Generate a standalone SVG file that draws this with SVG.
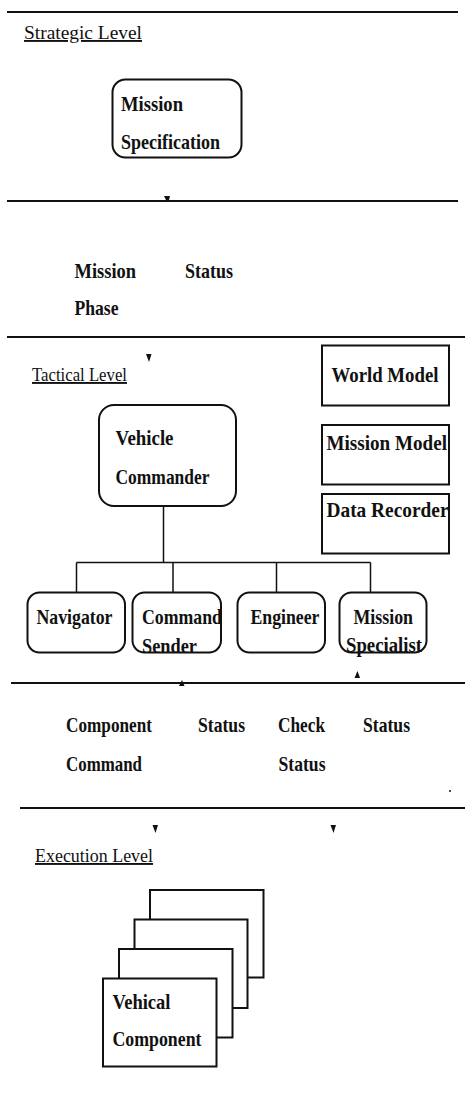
<svg xmlns="http://www.w3.org/2000/svg" width="465" height="1093" viewBox="0 0 465 1093">
  <style>
    .t { font-family: "Liberation Serif", "Times New Roman", serif; font-size: 22px; font-weight: bold; fill: #111; }
    .hd { font-family: "Liberation Serif", "Times New Roman", serif; font-size: 19px; fill: #111; text-decoration: underline; }
    .sep { stroke: #111; stroke-width: 2; fill: none; }
    .box { stroke: #111; stroke-width: 2; fill: #fff; }
    .wire { stroke: #111; stroke-width: 1.5; fill: none; }
    .tip { fill: #111; }
  </style>
  <rect width="465" height="1093" fill="#fff"/>

  <!-- level separators -->
  <g id="separators">
    <line class="sep" x1="7" y1="12" x2="458" y2="12"/>
    <line class="sep" x1="7" y1="201" x2="458" y2="201"/>
    <line class="sep" x1="7" y1="337" x2="465" y2="337"/>
    <line class="sep" x1="11" y1="683" x2="465" y2="683"/>
    <line class="sep" x1="20" y1="808" x2="465" y2="808"/>
  </g>

  <!-- level headings -->
  <g id="headings">
    <text class="hd" x="24" y="39" textLength="118" lengthAdjust="spacingAndGlyphs">Strategic Level</text>
    <text class="hd" x="32" y="381" textLength="95" lengthAdjust="spacingAndGlyphs">Tactical Level</text>
    <text class="hd" x="35" y="862" textLength="118" lengthAdjust="spacingAndGlyphs">Execution Level</text>
  </g>

  <!-- strategic level -->
  <g id="mission-specification">
    <rect class="box" x="112.5" y="79.5" width="129" height="78" rx="13"/>
    <text class="t" x="121" y="111" textLength="62" lengthAdjust="spacingAndGlyphs">Mission</text>
    <text class="t" x="121" y="149" textLength="99" lengthAdjust="spacingAndGlyphs">Specification</text>
  </g>

  <!-- strategic / tactical interface -->
  <g id="mission-status-phase">
    <text class="t" x="74.5" y="278" textLength="61.5" lengthAdjust="spacingAndGlyphs">Mission</text>
    <text class="t" x="185" y="278" textLength="48" lengthAdjust="spacingAndGlyphs">Status</text>
    <text class="t" x="74.5" y="315" textLength="44" lengthAdjust="spacingAndGlyphs">Phase</text>
  </g>

  <!-- tactical level -->
  <g id="vehicle-commander">
    <rect class="box" x="99" y="405" width="137" height="101" rx="15"/>
    <text class="t" x="115.5" y="445" textLength="58" lengthAdjust="spacingAndGlyphs">Vehicle</text>
    <text class="t" x="115.5" y="483.5" textLength="94" lengthAdjust="spacingAndGlyphs">Commander</text>
  </g>

  <g id="world-model">
    <rect class="box" x="322" y="345.5" width="127" height="60"/>
    <text class="t" x="331.5" y="381.5" textLength="107" lengthAdjust="spacingAndGlyphs">World Model</text>
  </g>
  <g id="mission-model">
    <rect class="box" x="322" y="425" width="127" height="59.5"/>
    <text class="t" x="326.5" y="450" textLength="120.5" lengthAdjust="spacingAndGlyphs">Mission Model</text>
  </g>
  <g id="data-recorder">
    <rect class="box" x="322" y="494" width="127" height="59.5"/>
    <text class="t" x="326.5" y="516.5" textLength="122" lengthAdjust="spacingAndGlyphs">Data Recorder</text>
  </g>

  <!-- command tree -->
  <g id="connectors">
    <line class="wire" x1="163.5" y1="506" x2="163.5" y2="562.5"/>
    <line class="wire" x1="76.5" y1="562.5" x2="370.5" y2="562.5"/>
    <line class="wire" x1="76.5" y1="562.5" x2="76.5" y2="592.5"/>
    <line class="wire" x1="173" y1="562.5" x2="173" y2="592.5"/>
    <line class="wire" x1="276.5" y1="562.5" x2="276.5" y2="592.5"/>
    <line class="wire" x1="370.5" y1="562.5" x2="370.5" y2="592.5"/>
    <!-- flow arrowheads -->
    <polygon class="tip" points="164,196 170,196 169,200 167,202"/>
    <polygon class="tip" points="146,354 151.5,354 149,362"/>
    <polygon class="tip" points="179,686 184.5,686 182,680"/>
    <polygon class="tip" points="354.5,678 360,678 357.5,671"/>
    <polygon class="tip" points="152.5,825 158,825 155.5,833"/>
    <polygon class="tip" points="330.5,825 336,825 333.5,833"/>
    <circle class="tip" cx="450" cy="791" r="1"/>
  </g>

  <g id="navigator">
    <rect class="box" x="27.5" y="592.5" width="97.5" height="60" rx="12"/>
    <text class="t" x="36.5" y="623.5" textLength="76" lengthAdjust="spacingAndGlyphs">Navigator</text>
  </g>
  <g id="command-sender">
    <rect class="box" x="132.5" y="592.5" width="88.5" height="60" rx="12"/>
    <text class="t" x="142" y="623.5" textLength="80" lengthAdjust="spacingAndGlyphs">Command</text>
    <text class="t" x="142" y="653" textLength="55" lengthAdjust="spacingAndGlyphs">Sender</text>
  </g>
  <g id="engineer">
    <rect class="box" x="237.5" y="592.5" width="87.5" height="60" rx="12"/>
    <text class="t" x="250.5" y="623.5" textLength="69" lengthAdjust="spacingAndGlyphs">Engineer</text>
  </g>
  <g id="mission-specialist">
    <rect class="box" x="339.5" y="592.5" width="87" height="60" rx="12"/>
    <text class="t" x="353.5" y="623.5" textLength="59.5" lengthAdjust="spacingAndGlyphs">Mission</text>
    <text class="t" x="346" y="652" textLength="76" lengthAdjust="spacingAndGlyphs">Specialist</text>
  </g>

  <!-- tactical / execution interface -->
  <g id="component-command-status">
    <text class="t" x="66" y="731.5" textLength="86" lengthAdjust="spacingAndGlyphs">Component</text>
    <text class="t" x="66" y="771" textLength="76" lengthAdjust="spacingAndGlyphs">Command</text>
    <text class="t" x="198" y="731.5" textLength="47" lengthAdjust="spacingAndGlyphs">Status</text>
  </g>
  <g id="check-status">
    <text class="t" x="278" y="731.5" textLength="47" lengthAdjust="spacingAndGlyphs">Check</text>
    <text class="t" x="278.5" y="771" textLength="47" lengthAdjust="spacingAndGlyphs">Status</text>
    <text class="t" x="363" y="731.5" textLength="47" lengthAdjust="spacingAndGlyphs">Status</text>
  </g>

  <!-- execution level: stack of vehicle components -->
  <g id="vehicle-components">
    <rect class="box" x="150" y="890" width="113.5" height="87.5"/>
    <rect class="box" x="134.5" y="919.5" width="113" height="88.5"/>
    <rect class="box" x="119" y="949" width="113.5" height="88.5"/>
    <rect class="box" x="103" y="978.5" width="113.5" height="88"/>
    <text class="t" x="112.5" y="1008.5" textLength="58" lengthAdjust="spacingAndGlyphs">Vehical</text>
    <text class="t" x="112.5" y="1046" textLength="89" lengthAdjust="spacingAndGlyphs">Component</text>
  </g>
</svg>
